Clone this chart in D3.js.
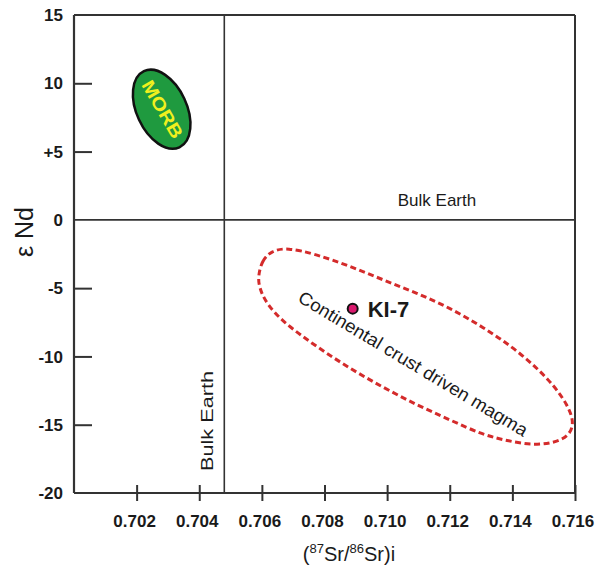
<!DOCTYPE html>
<html>
<head>
<meta charset="utf-8">
<script src="https://cdn.jsdelivr.net/npm/d3@7"></script>
<style>
  html, body { margin: 0; padding: 0; background: #fff; }
  svg { display: block; font-family: "Liberation Sans", Arial, sans-serif; }
</style>
</head>
<body>
<svg id="chart" width="600" height="567"></svg>
<script>
// ---- data ----
const xDomain = [0.700, 0.716];
const yDomain = [-20, 15];
const xTicks = [0.702, 0.704, 0.706, 0.708, 0.710, 0.712, 0.714, 0.716];
const xTickLabels = ["0.702", "0.704", "0.706", "0.708", "0.710", "0.712", "0.714", "0.716"];
const yTicks = [15, 10, 5, 0, -5, -10, -15, -20];
const yTickLabels = ["15", "10", "+5", "0", "-5", "-10", "-15", "-20"];
const bulkEarthSr = [0.7048];
const bulkEarthNd = [0];
const sampleNames = ["KI-7"];
const sampleSr = [0.7089];
const sampleNd = [-6.5];
const fieldNames = ["MORB", "Continental crust driven magma"];
const morbSr = [0.7028];
const morbNd = [8.1];
// continental crust field boundary
const crustSr = [0.70588, 0.70600, 0.70629, 0.70680, 0.70770, 0.70881, 0.70987, 0.71095,
                 0.71201, 0.71306, 0.71415, 0.71520, 0.71578, 0.71600, 0.71571, 0.71479,
                 0.71386, 0.71306, 0.71201, 0.71095, 0.70987, 0.70881, 0.70776, 0.70667,
                 0.70613, 0.70591];
const crustNd = [-4.11, -3.01, -2.28, -2.02, -2.50, -3.38, -4.40, -5.36,
                 -6.45, -7.85, -9.53, -11.73, -13.56, -15.02, -16.12, -16.56,
                 -16.19, -15.75, -14.65, -13.56, -12.27, -10.88, -9.31, -7.48,
                 -6.09, -4.92];

// ---- layout ----
const svg = d3.select("#chart");
const pL = 74, pR = 575, pT = 15, pB = 493;
const x = d3.scaleLinear().domain(xDomain).range([pL, pR]);
const y = d3.scaleLinear().domain(yDomain).range([pB, pT]);
const axisColor = "#333";
const textColor = "#1a1a1a";

// reference lines
svg.append("line")
  .attr("x1", pL).attr("x2", pR)
  .attr("y1", y(bulkEarthNd[0])).attr("y2", y(bulkEarthNd[0]))
  .attr("stroke", axisColor).attr("stroke-width", 1.6);
svg.append("line")
  .attr("x1", x(bulkEarthSr[0])).attr("x2", x(bulkEarthSr[0]))
  .attr("y1", pT).attr("y2", pB)
  .attr("stroke", axisColor).attr("stroke-width", 1.6);

// frame (top and right)
svg.append("line").attr("x1", pL).attr("x2", pR).attr("y1", pT).attr("y2", pT)
  .attr("stroke", axisColor).attr("stroke-width", 2);
svg.append("line").attr("x1", pR).attr("x2", pR).attr("y1", pT).attr("y2", pB)
  .attr("stroke", axisColor).attr("stroke-width", 2);

// y axis (ticks inward)
const yAxis = d3.axisRight(y).tickValues(yTicks).tickSize(18).tickFormat(() => "");
const gy = svg.append("g").attr("transform", `translate(${pL},0)`).call(yAxis);
gy.select(".domain").attr("stroke", axisColor).attr("stroke-width", 2.2)
  .attr("d", `M0,${pT}V${pB}`);
gy.selectAll(".tick line").attr("stroke", axisColor).attr("stroke-width", 2);
gy.selectAll(".tick").filter(d => d === 0 || d === 15 || d === -20).select("line").remove();
svg.append("g").selectAll("text").data(yTicks).join("text")
  .attr("x", 63).attr("y", d => y(d)).attr("dy", "0.36em")
  .attr("text-anchor", "end").attr("font-size", 17).attr("font-weight", "bold")
  .attr("fill", textColor)
  .text((d, i) => yTickLabels[i]);

// x axis (ticks crossing)
const xAxis = d3.axisBottom(x).tickValues(xTicks).tickSize(8).tickFormat(() => "");
const gx = svg.append("g").attr("transform", `translate(0,${pB})`).call(xAxis);
gx.select(".domain").attr("stroke", axisColor).attr("stroke-width", 2.2)
  .attr("d", `M${pL},0H${pR}`);
gx.selectAll(".tick line").attr("stroke", axisColor).attr("stroke-width", 2)
  .attr("y1", -8).attr("y2", 8);
svg.append("g").selectAll("text").data(xTicks).join("text")
  .attr("x", d => x(d) - 2).attr("y", pB + 34)
  .attr("text-anchor", "middle").attr("font-size", 17).attr("font-weight", "bold")
  .attr("fill", textColor)
  .text((d, i) => xTickLabels[i]);

// axis titles
const xt = svg.append("text").attr("x", 349).attr("y", 561)
  .attr("text-anchor", "middle").attr("font-size", 20).attr("fill", textColor);
xt.append("tspan").text("(");
xt.append("tspan").attr("font-size", 13).attr("dy", -8).text("87");
xt.append("tspan").attr("dy", 8).text("Sr/");
xt.append("tspan").attr("font-size", 13).attr("dy", -8).text("86");
xt.append("tspan").attr("dy", 8).text("Sr)i");

svg.append("text")
  .attr("transform", "translate(33,232) rotate(-90)")
  .attr("text-anchor", "middle").attr("font-size", 25).attr("fill", textColor)
  .text("ε Nd");

// Bulk Earth labels
svg.append("text").attr("x", 437).attr("y", 206).attr("text-anchor", "middle")
  .attr("font-size", 17).attr("fill", textColor).text("Bulk Earth");
svg.append("text")
  .attr("transform", `translate(${x(bulkEarthSr[0]) - 11},421) rotate(-90)`)
  .attr("text-anchor", "middle").attr("font-size", 16.5).attr("fill", textColor)
  .attr("textLength", 100).attr("lengthAdjust", "spacingAndGlyphs")
  .text("Bulk Earth");

// MORB field
svg.append("ellipse")
  .attr("transform", `translate(${x(morbSr[0])},${y(morbNd[0])}) rotate(-25)`)
  .attr("rx", 25).attr("ry", 42)
  .attr("fill", "#1f9a3f").attr("stroke", "#111").attr("stroke-width", 2.5);
svg.append("text")
  .attr("transform", `translate(${x(morbSr[0]) + 1},${y(morbNd[0])}) rotate(60)`)
  .attr("text-anchor", "middle").attr("dy", "0.36em")
  .attr("font-size", 18).attr("font-weight", "bold").attr("fill", "#f0f01e")
  .attr("textLength", 64).attr("lengthAdjust", "spacingAndGlyphs")
  .text(fieldNames[0]);

// continental crust field
const crustPts = crustSr.map((s, i) => [s, crustNd[i]]);
const boundary = d3.line().x(d => x(d[0])).y(d => y(d[1])).curve(d3.curveBasisClosed);
svg.append("path")
  .attr("d", boundary(crustPts))
  .attr("fill", "none").attr("stroke", "#d42b2b").attr("stroke-width", 3)
  .attr("stroke-dasharray", "6,3.5");
svg.append("text")
  .attr("transform", "translate(410,369) rotate(31)")
  .attr("text-anchor", "middle").attr("font-size", 18).attr("fill", textColor)
  .attr("textLength", 264).attr("lengthAdjust", "spacingAndGlyphs")
  .text(fieldNames[1]);

// sample
const samples = sampleNames.map((n, i) => ({ name: n, sr: sampleSr[i], nd: sampleNd[i] }));
svg.append("g").selectAll("circle").data(samples).join("circle")
  .attr("cx", d => x(d.sr)).attr("cy", d => y(d.nd)).attr("r", 5)
  .attr("fill", "#d91a6e").attr("stroke", "#111").attr("stroke-width", 2);
svg.append("g").selectAll("text").data(samples).join("text")
  .attr("x", d => x(d.sr) + 15).attr("y", d => y(d.nd)).attr("dy", "0.36em")
  .attr("font-size", 22).attr("font-weight", "bold").attr("fill", textColor)
  .text(d => d.name);
</script>
</body>
</html>
